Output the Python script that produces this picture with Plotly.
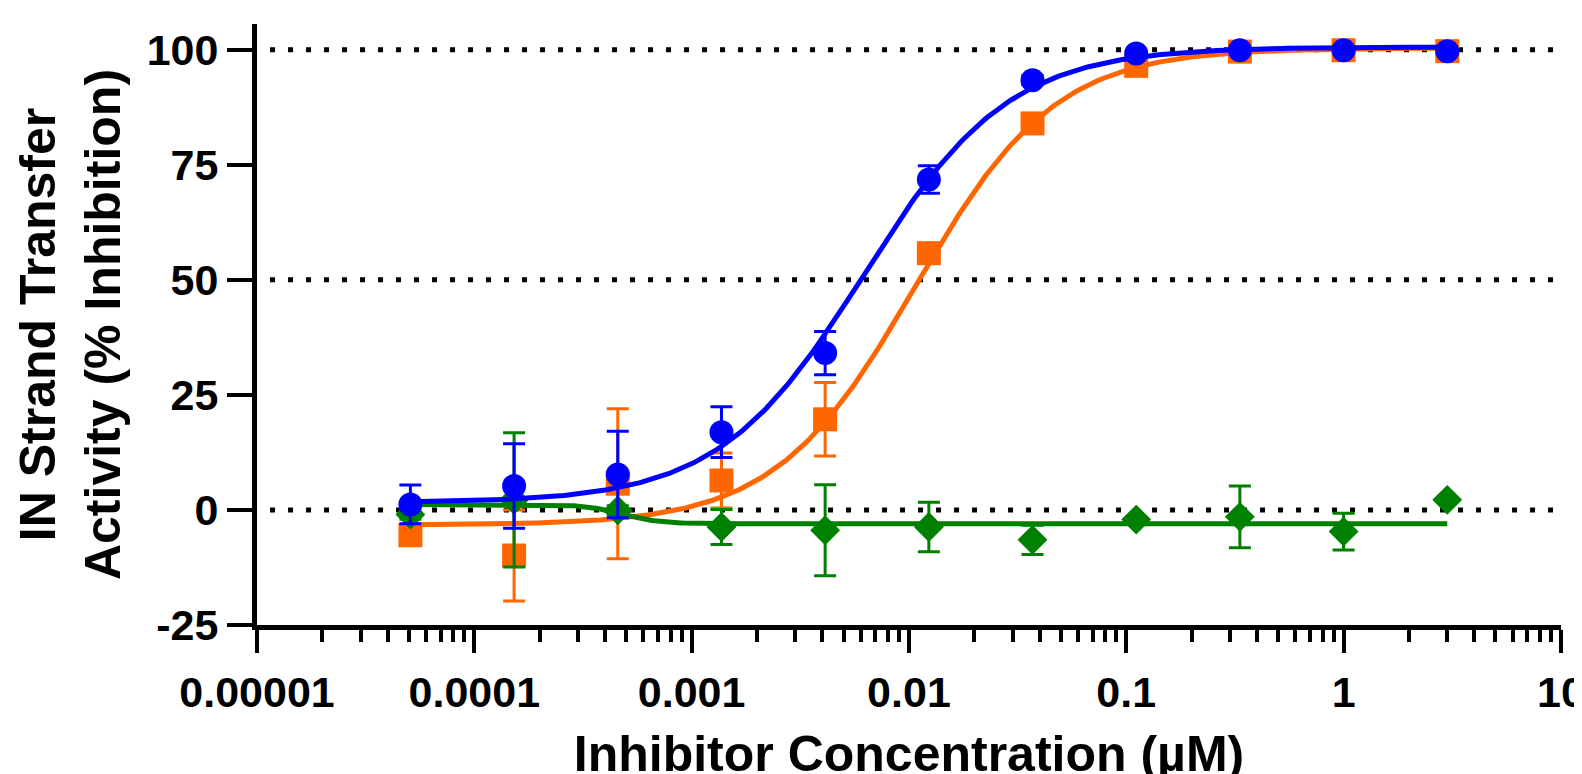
import numpy as np
import plotly.graph_objects as go

# ---------------- data ----------------
conc = [5.08e-5, 1.524e-4, 4.572e-4, 1.372e-3, 4.115e-3, 0.01235, 0.03704, 0.1111, 0.3333, 1.0, 3.0]

blue_y = [1.2, 5.2, 7.7, 16.9, 34.1, 71.8, 93.4, 99.2, 99.9, 99.9, 99.7]
blue_sd = [4.2, 9.2, 9.4, 5.5, 4.7, 3.0, 1.0, 0.5, 0.3, 0.3, 0.3]

orange_y = [-5.5, -9.9, 5.7, 6.4, 19.7, 55.8, 84.0, 96.5, 99.6, 99.9, 99.7]
orange_sd = [1.0, 9.9, 16.3, 6.0, 8.0, 2.0, 1.0, 1.0, 0.5, 0.5, 0.5]

green_y = [-1.0, 2.2, -0.1, -3.7, -4.4, -3.7, -6.5, -2.1, -1.5, -4.7, 2.2]
green_sd = [1.0, 14.6, 1.0, 3.8, 9.9, 5.4, 3.2, 0.5, 6.7, 4.0, 0.5]

# 4-parameter logistic fit parameters (bottom, top, IC50, Hill slope)
blue_fit = (1.6, 100.6, 0.0062, 1.3)
orange_fit = (-3.3, 100.4, 0.0107, 1.35)
green_fit = (1.2, -3.0, 0.00048, 5.0)

x_ticks = [1e-5, 1e-4, 1e-3, 1e-2, 1e-1, 1, 10]
x_ticktext = ["0.00001", "0.0001", "0.001", "0.01", "0.1", "1", "10"]
y_ticks = [-25, 0, 25, 50, 75, 100]
y_ticktext = ["-25", "0", "25", "50", "75", "100"]
grid_levels = [0, 50, 100]

BLUE = "#0000FF"
ORANGE = "#FF6600"
GREEN = "#008000"


def logistic(x, p):
    bottom, top, ic50, hill = p
    x = np.asarray(x, dtype=float)
    return bottom + (top - bottom) / (1.0 + (ic50 / x) ** hill)


xfit = np.logspace(np.log10(conc[0]), np.log10(conc[-1]), 400)

fig = go.Figure()

series = [
    ("orange", orange_y, orange_sd, orange_fit, ORANGE, "square", 24),
    ("green", green_y, green_sd, green_fit, GREEN, "diamond", 23),
    ("blue", blue_y, blue_sd, blue_fit, BLUE, "circle", 24),
]

for name, ys, sds, fit, col, sym, sz in series:
    fig.add_trace(go.Scatter(
        x=xfit, y=logistic(xfit, fit), mode="lines",
        line=dict(color=col, width=5), hoverinfo="skip", showlegend=False))
    fig.add_trace(go.Scatter(
        x=conc, y=ys, mode="markers", name=name,
        marker=dict(symbol=sym, size=sz, color=col, line=dict(width=0)),
        error_y=dict(type="data", array=sds, visible=True, color=col,
                     thickness=3, width=11),
        showlegend=False))

for g in grid_levels:
    fig.add_shape(type="line", xref="paper", x0=0.01, x1=1, yref="y", y0=g, y1=g,
                  line=dict(color="black", width=5, dash="5px,13px"), layer="below")

minor_vals = [m * 10.0 ** e for e in range(-5, 1) for m in range(2, 10)]

font_fam = "Liberation Sans, Arial, Helvetica, sans-serif"

# the page body adds an 8px offset, margins compensate for it
fig.update_layout(
    width=1582, height=774,
    margin=dict(l=249, r=29, t=16, b=157),
    plot_bgcolor="white", paper_bgcolor="white",
    font=dict(family=font_fam, color="black"),
    xaxis=dict(
        type="log", range=[-5, 1.0005],
        tickmode="array", tickvals=x_ticks, ticktext=x_ticktext,
        ticks="outside", ticklen=23, tickwidth=4, tickcolor="black",
        ticklabelstandoff=2,
        minor=dict(tickmode="array", tickvals=minor_vals, ticks="outside",
                   ticklen=12, tickwidth=4, tickcolor="black", showgrid=False),
        showline=True, linewidth=5, linecolor="black",
        showgrid=False, zeroline=False, automargin=False,
        tickfont=dict(family=font_fam, size=43, color="black", weight="bold"),
        title=dict(text="Inhibitor Concentration (µM)", standoff=24,
                   font=dict(family=font_fam, size=50, color="black", weight="bold")),
    ),
    yaxis=dict(
        range=[-25, 105.6],
        tickmode="array", tickvals=y_ticks, ticktext=y_ticktext,
        ticks="outside", ticklen=25, tickwidth=4, tickcolor="black",
        showline=True, linewidth=5, linecolor="black",
        showgrid=False, zeroline=False, automargin=False,
        tickfont=dict(family=font_fam, size=43, color="black", weight="bold"),
        title=dict(text="IN Strand Transfer<br>Activity (% Inhibition)", standoff=12,
                   font=dict(family=font_fam, size=50, color="black", weight="bold")),
    ),
)

fig.write_html("out.html")
